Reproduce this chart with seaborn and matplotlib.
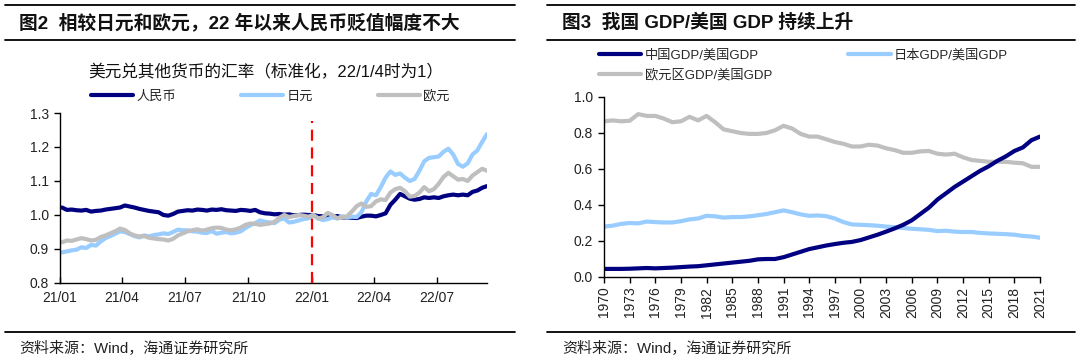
import numpy as np
import pandas as pd
import matplotlib
matplotlib.use('Agg')
import matplotlib.pyplot as plt
import matplotlib.dates as mdates
from matplotlib.lines import Line2D
from matplotlib.ticker import FormatStrFormatter
import seaborn as sns

sns.set_theme(style='white')
plt.rcParams['font.family'] = ['Liberation Sans', 'Noto Sans CJK SC', 'DejaVu Sans']
plt.rcParams['axes.unicode_minus'] = False

# ---------------- data: exchange rates (weekly, normalised 22/1/4 = 1) ----------------
fx_first_week = '2021-01-04'
fx_names = ['人民币', '日元', '欧元']
cny = [1.022, 1.015, 1.016, 1.014,
       1.013, 1.015, 1.010, 1.012,
       1.013, 1.016, 1.018, 1.020, 1.022,
       1.028, 1.025, 1.022, 1.018,
       1.015, 1.012, 1.010, 1.008, 1.000,
       0.998, 1.003, 1.010, 1.012,
       1.014, 1.013, 1.016, 1.015,
       1.013, 1.016, 1.015, 1.017, 1.014,
       1.013, 1.012, 1.015, 1.014,
       1.012, 1.015, 1.008, 1.005,
       1.004, 1.002, 1.003, 1.001, 1.002,
       0.999, 1.000, 1.001, 1.000,
       1.000, 0.997, 0.996, 0.998, 0.995,
       0.997, 0.993, 0.993, 0.992,
       0.991, 0.995, 0.998, 0.998,
       0.996, 1.000, 1.005, 1.030,
       1.045, 1.062, 1.055, 1.048, 1.045,
       1.047, 1.052, 1.050, 1.052,
       1.050, 1.055, 1.058, 1.060,
       1.058, 1.060, 1.058, 1.068, 1.072,
       1.080, 1.085]
jpy = [0.890, 0.893, 0.896, 0.898,
       0.905, 0.903, 0.912, 0.910,
       0.922, 0.932, 0.938, 0.945, 0.952,
       0.950, 0.944, 0.938, 0.934,
       0.940, 0.937, 0.941, 0.943, 0.946,
       0.944, 0.950, 0.957, 0.955,
       0.955, 0.952, 0.951, 0.948,
       0.947, 0.953, 0.945, 0.948, 0.950,
       0.946, 0.948, 0.952, 0.962,
       0.970, 0.976, 0.984, 0.980,
       0.978, 0.976, 0.986, 0.990, 0.978,
       0.980, 0.984, 0.988, 0.990,
       1.000, 0.990, 0.985, 0.988, 0.993,
       0.990, 0.996, 0.993, 0.995,
       0.994, 1.008, 1.040, 1.062,
       1.058, 1.082, 1.110, 1.128,
       1.118, 1.122, 1.110, 1.100, 1.106,
       1.130, 1.158, 1.168, 1.170,
       1.172, 1.186, 1.195, 1.178,
       1.150, 1.142, 1.152, 1.178, 1.190,
       1.215, 1.238]
eur = [0.920, 0.925, 0.924, 0.928,
       0.932, 0.929, 0.925, 0.927,
       0.935, 0.940, 0.946, 0.952, 0.960,
       0.956, 0.946, 0.940, 0.937,
       0.938, 0.933, 0.931, 0.929, 0.928,
       0.925, 0.930, 0.940, 0.946,
       0.952, 0.955, 0.958, 0.954,
       0.957, 0.961, 0.963, 0.962, 0.957,
       0.955, 0.958, 0.963, 0.971,
       0.975, 0.974, 0.971, 0.973,
       0.975, 0.980, 0.992, 1.000, 0.994,
       0.997, 1.000, 0.998, 0.995,
       1.000, 0.990, 0.993, 1.006, 1.000,
       0.990, 0.994, 0.996, 1.010,
       1.026, 1.034, 1.024, 1.026,
       1.040, 1.046, 1.044, 1.066,
       1.076, 1.080, 1.070, 1.054, 1.056,
       1.066, 1.082, 1.070, 1.076,
       1.092, 1.112, 1.124, 1.114,
       1.104, 1.106, 1.100, 1.116, 1.126,
       1.136, 1.130]
fx_ticks = ['2021-01-01', '2021-04-01', '2021-07-01', '2021-10-01',
            '2022-01-01', '2022-04-01', '2022-07-01']
fx_marker_date = '2022-01-01'

# ---------------- data: GDP ratios ----------------
years = list(range(1970, 2022))
gdp_names = ['中国GDP/美国GDP', '日本GDP/美国GDP', '欧元区GDP/美国GDP']
china = [0.045, 0.045, 0.045, 0.046, 0.048, 0.050, 0.048, 0.050, 0.052, 0.055,
         0.058, 0.060, 0.065, 0.070, 0.075, 0.080, 0.085, 0.090, 0.098, 0.100,
         0.100, 0.110, 0.125, 0.140, 0.155, 0.165, 0.175, 0.183, 0.190, 0.195,
         0.205, 0.220, 0.235, 0.252, 0.270, 0.290, 0.315, 0.350, 0.385, 0.430,
         0.465, 0.500, 0.530, 0.560, 0.590, 0.615, 0.645, 0.670, 0.700, 0.720,
         0.760, 0.780]
japan = [0.280, 0.285, 0.295, 0.300, 0.298, 0.308, 0.305, 0.303, 0.303, 0.310,
         0.320, 0.325, 0.340, 0.337, 0.330, 0.333, 0.333, 0.337, 0.343, 0.350,
         0.360, 0.370, 0.360, 0.348, 0.340, 0.342, 0.338, 0.325, 0.305, 0.292,
         0.290, 0.288, 0.285, 0.280, 0.277, 0.272, 0.268, 0.265, 0.262, 0.255,
         0.257, 0.252, 0.250, 0.250, 0.245, 0.242, 0.240, 0.238, 0.235, 0.228,
         0.225, 0.218]
euro = [0.865, 0.870, 0.865, 0.868, 0.905, 0.895, 0.895, 0.880, 0.860, 0.865,
        0.890, 0.870, 0.895, 0.860, 0.820, 0.810, 0.800, 0.795, 0.795, 0.800,
        0.815, 0.840, 0.825, 0.795, 0.780, 0.780, 0.765, 0.750, 0.740, 0.725,
        0.725, 0.735, 0.730, 0.715, 0.705, 0.690, 0.690, 0.698, 0.700, 0.685,
        0.680, 0.685, 0.665, 0.650, 0.645, 0.640, 0.640, 0.640, 0.635, 0.632,
        0.612, 0.612]
gdp_ticks = list(range(1970, 2022, 3))

# ---------------- style ----------------
NAVY = '#000080'
LBLUE = '#99CCFF'
GRAY = '#BFBFBF'

W, H = 1080, 363
fig = plt.figure(figsize=(W / 100, H / 100), dpi=100)


def box(x0, y0, x1, y1):
    return [x0 / W, 1 - y1 / H, (x1 - x0) / W, (y1 - y0) / H]


def hline(x0, x1, y):
    fig.add_artist(Line2D([x0 / W, x1 / W], [1 - y / H, 1 - y / H],
                          color='black', lw=1.3))


# headers and footers
for x0, x1 in [(5, 515), (547, 1075)]:
    hline(x0, x1, 5)
    hline(x0, x1, 40)
    hline(x0, x1, 332)

fig.text(19 / W, 1 - 23 / H, '图2  相较日元和欧元，22 年以来人民币贬值幅度不大',
         fontsize=13.5, fontweight='bold', va='center', color='#111111')
fig.text(562 / W, 1 - 23 / H, '图3  我国 GDP/美国 GDP 持续上升',
         fontsize=13.5, fontweight='bold', va='center', color='#111111')
fig.text(19 / W, 1 - 349 / H, '资料来源：Wind，海通证券研究所',
         fontsize=10.8, va='center', color='#222222')
fig.text(562 / W, 1 - 349 / H, '资料来源：Wind，海通证券研究所',
         fontsize=10.8, va='center', color='#222222')
fig.text(266 / W, 1 - 72 / H, '美元兑其他货币的汇率（标准化，22/1/4时为1）',
         fontsize=12, ha='center', va='center', color='#111111')

# ---------------- left chart ----------------
dates = pd.date_range(fx_first_week, periods=len(cny), freq='7D')
df_fx = pd.DataFrame({'date': dates, fx_names[0]: cny, fx_names[1]: jpy,
                      fx_names[2]: eur}).melt('date', var_name='币种', value_name='汇率')

ax1 = fig.add_axes(box(60, 113, 487, 283))
sns.lineplot(data=df_fx, x='date', y='汇率', hue='币种', hue_order=fx_names,
             palette=[NAVY, LBLUE, GRAY], linewidth=3, ax=ax1, legend=False)
ax1.vlines(pd.Timestamp(fx_marker_date), 0.8, 1.275, color='#FF0000', lw=1.6,
           linestyles=[(0, (5, 3))], zorder=5)
ax1.set_xlim(pd.Timestamp('2021-01-01'), dates[-1])
ax1.set_ylim(0.8, 1.3)
ax1.set_yticks(np.arange(0.8, 1.31, 0.1))
ax1.yaxis.set_major_formatter(FormatStrFormatter('%.1f'))
ax1.set_xticks(pd.to_datetime(fx_ticks))
ax1.xaxis.set_major_formatter(mdates.DateFormatter('%y/%m'))
ax1.tick_params(axis='x', direction='in', length=4, width=1, color='black',
                bottom=True, labelsize=10, pad=6, labelcolor='#222222')
ax1.tick_params(axis='y', direction='out', length=4, width=1, color='black',
                left=True, labelsize=10, pad=4, labelcolor='#222222')
ax1.set_xlabel('')
ax1.set_ylabel('')

# ---------------- right chart ----------------
df_gdp = pd.DataFrame({'year': years, gdp_names[0]: china, gdp_names[1]: japan,
                       gdp_names[2]: euro}).melt('year', var_name='地区', value_name='比值')
ax2 = fig.add_axes(box(604, 97, 1040, 277))
sns.lineplot(data=df_gdp, x='year', y='比值', hue='地区',
             hue_order=[gdp_names[2], gdp_names[1], gdp_names[0]],
             palette=[GRAY, LBLUE, NAVY], linewidth=3, ax=ax2, legend=False)
ax2.set_xlim(years[0], years[-1])
ax2.set_ylim(0, 1.0)
ax2.set_yticks(np.arange(0, 1.01, 0.2))
ax2.yaxis.set_major_formatter(FormatStrFormatter('%.1f'))
ax2.set_xticks(gdp_ticks)
ax2.set_xticklabels([str(y) for y in gdp_ticks], rotation=90)
ax2.tick_params(axis='x', direction='out', length=4, width=1, color='black',
                bottom=True, labelsize=10, pad=3, labelcolor='#222222')
ax2.tick_params(axis='y', direction='out', length=4, width=1, color='black',
                left=True, labelsize=10, pad=4, labelcolor='#222222')
ax2.set_xlabel('')
ax2.set_ylabel('')

for ax in (ax1, ax2):
    sns.despine(ax=ax)
    for s in ('left', 'bottom'):
        ax.spines[s].set_color('black')
        ax.spines[s].set_linewidth(1.0)
    ax.grid(False)

# ---------------- legends ----------------
h_fx = [Line2D([], [], color=c, lw=3) for c in (NAVY, LBLUE, GRAY)]
fig.legend(h_fx, fx_names, loc='center left', bbox_to_anchor=(91 / W, 1 - 96 / H),
           ncol=3, frameon=False, fontsize=9.5, handlelength=3.2, handletextpad=0.25,
           columnspacing=4.9, borderpad=0, borderaxespad=0)

h_gdp = [Line2D([], [], color=c, lw=3) for c in (NAVY, GRAY, LBLUE)]
fig.legend(h_gdp, [gdp_names[0], gdp_names[2], gdp_names[1]], loc='center left',
           bbox_to_anchor=(599 / W, 1 - 65 / H), ncol=2, frameon=False, fontsize=9.5,
           handlelength=3.2, handletextpad=0.25, columnspacing=5.8, labelspacing=0.55,
           borderpad=0, borderaxespad=0)

fig.savefig('out.png', dpi=100)
